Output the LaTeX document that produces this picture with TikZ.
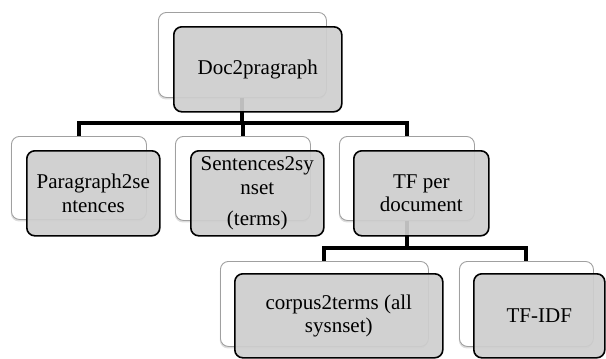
\documentclass[tikz,border=0pt]{standalone}
\usepackage{fontspec}
\setmainfont{Liberation Serif}
\usetikzlibrary{shadows}
\definecolor{backedge}{RGB}{160,160,160}
\definecolor{frontfill}{RGB}{206,206,206}
\begin{document}
\begin{tikzpicture}[x=1pt,y=-1pt,
  backbox/.style={draw=backedge, line width=0.9pt, fill=white, rounded corners=8pt,
    rectangle, anchor=north west, inner sep=0pt,
    drop shadow={shadow xshift=-0.6pt, shadow yshift=-2pt, opacity=0.22, fill=black!60}},
  frontbox/.style={draw=black, line width=1.6pt, fill=frontfill, fill opacity=0.92,
    text opacity=1, rounded corners=8pt, rectangle, anchor=north west, inner sep=0pt,
    font=\fontsize{21}{23.5}\selectfont, align=center, text=black},
  conn/.style={draw=black, line width=4pt, line join=miter}]
\useasboundingbox (0,0) rectangle (606,359);
% back boxes
\node[backbox, minimum width=168pt, minimum height=85pt] (b0) at (158,12) {};
\node[backbox, minimum width=135pt, minimum height=83pt] (b1) at (11,136) {};
\node[backbox, minimum width=135pt, minimum height=84pt] (b2) at (175,136) {};
\node[backbox, minimum width=135pt, minimum height=84pt] (b3) at (339,136) {};
\node[backbox, minimum width=208pt, minimum height=85pt] (b4) at (220,261) {};
\node[backbox, minimum width=134pt, minimum height=85pt] (b5) at (459,261) {};
% bars
\coordinate (bar1) at (0,123);
\coordinate (bar2) at (0,248);
% connectors
\draw[conn] (b0.south) -- (b0.south |- bar1) -| (b1.north);
\draw[conn] (b0.south) -- (b0.south |- bar1) -| (b2.north);
\draw[conn] (b0.south) -- (b0.south |- bar1) -| (b3.north);
\draw[conn] (b3.south) -- (b3.south |- bar2) -| (b4.north);
\draw[conn] (b3.south) -- (b3.south |- bar2) -| (b5.north);
% front boxes
\node[frontbox, minimum width=168pt, minimum height=85pt] (f0) at (173,26) {Doc2pragraph};
\node[frontbox, minimum width=133pt, minimum height=85pt] (f1) at (26,150) {Paragraph2se\\ntences};
\node[frontbox, minimum width=133pt, minimum height=85pt] (f2) at (190,150) {Sentences2sy\\nset\\[8pt](terms)};
\node[frontbox, minimum width=135pt, minimum height=85pt] (f3) at (353,150) {TF per\\document};
\node[frontbox, minimum width=208pt, minimum height=84pt] (f4) at (234,273) {corpus2terms (all\\sysnset)};
\node[frontbox, minimum width=131pt, minimum height=84pt] (f5) at (473,273) {TF-IDF};
\end{tikzpicture}
\end{document}
